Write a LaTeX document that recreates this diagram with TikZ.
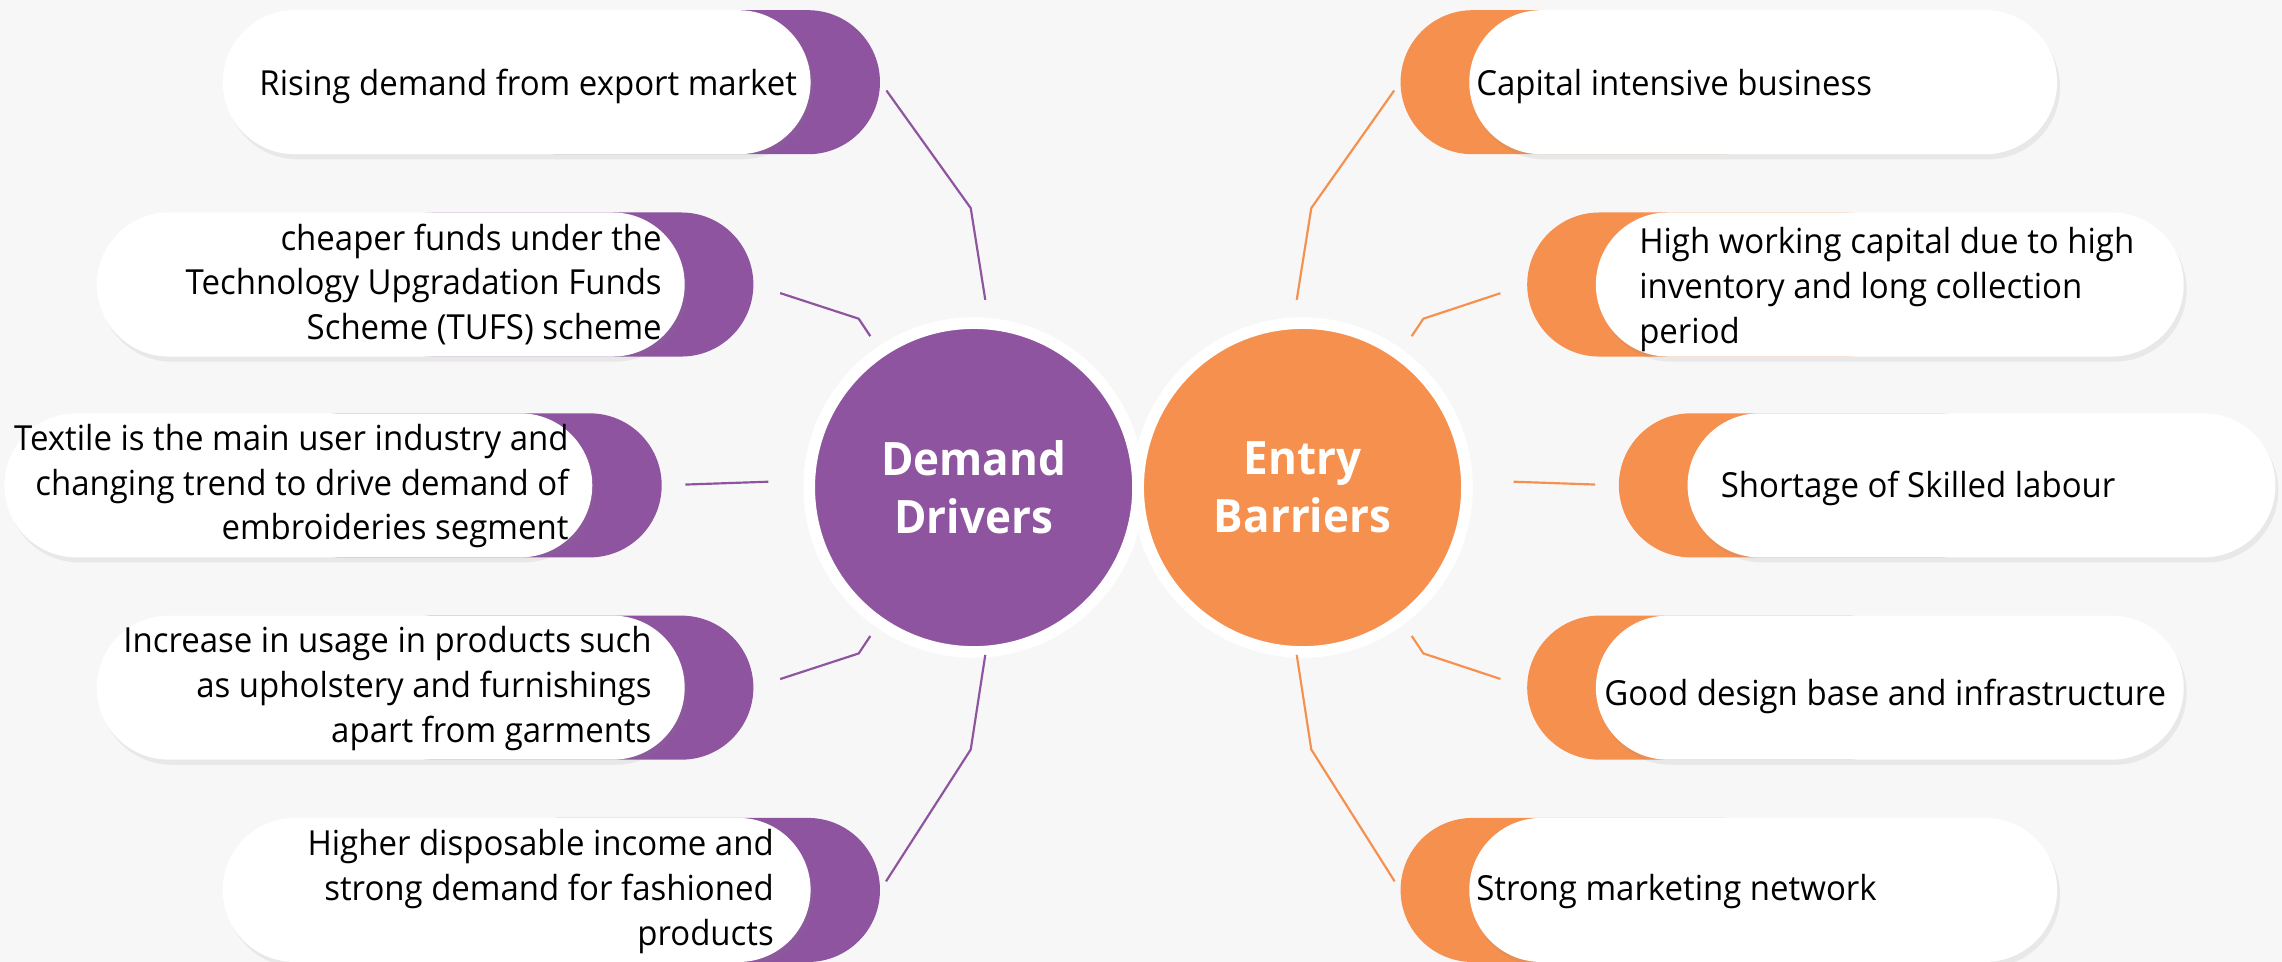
\documentclass[tikz,border=0pt]{standalone}
\usepackage{fontspec}
\setmainfont{Open Sans}[FakeStretch=0.955]
\usepackage{tikz}
\usetikzlibrary{shapes.misc,shadows}
\definecolor{ddpurple}{HTML}{8E54A0}
\definecolor{eborange}{HTML}{F5904F}
\definecolor{bggray}{HTML}{F7F7F7}
\tikzstyle{whitepill} = [rounded rectangle, fill=white, minimum width=8.08cm, minimum height=1.98cm, inner sep=0pt,
  drop shadow={opacity=0.12, shadow xshift=0.04cm, shadow yshift=-0.07cm}]
\tikzstyle{ddback} = [rounded rectangle, fill=ddpurple, minimum width=5.4cm, minimum height=1.98cm, inner sep=0pt]
\tikzstyle{ebback} = [rounded rectangle, fill=eborange, minimum width=5.4cm, minimum height=1.98cm, inner sep=0pt]
\tikzstyle{pilltext} = [inner sep=0pt, font=\fontsize{13.5}{17.5}\selectfont]
\tikzstyle{hub} = [circle, draw=white, line width=0.16cm, minimum size=4.52cm, text=white,
  align=center, font=\fontsize{18}{22.7}\selectfont\bfseries]
\tikzstyle{ddline} = [ddpurple, line width=0.85pt]
\tikzstyle{ebline} = [eborange, line width=0.85pt]

\begin{document}
\begin{tikzpicture}[x=0.02cm, y=-0.02cm]
        % Bounding box
        \useasboundingbox (0,0) rectangle (1568,661);
        \fill[bggray] (0,0) rectangle (1568,661);

        % Hubs
        \node[hub, fill=ddpurple] (dd) at (669,335) {Demand\\Drivers};
        \node[hub, fill=eborange] (eb) at (895,335) {Entry\\Barriers};

        % Demand drivers (left)
        \node[ddback, anchor=east] (d1b) at (605,56.5) {};
        \node[ddback, anchor=east] (d2b) at (518,195.5) {};
        \node[ddback, anchor=east] (d3b) at (455,333.5) {};
        \node[ddback, anchor=east] (d4b) at (518,472.5) {};
        \node[ddback, anchor=east] (d5b) at (605,611.5) {};
        \node[whitepill] (d1) at (355,56.5) {};
        \node[whitepill] (d2) at (268.5,195.5) {};
        \node[whitepill] (d3) at (205,333.5) {};
        \node[whitepill] (d4) at (268.5,472.5) {};
        \node[whitepill] (d5) at (355,611.5) {};
        \node[pilltext, anchor=east, align=right] (d1t) at (548,59.5) {Rising demand from export market};
        \node[pilltext, anchor=east, align=right] (d2t) at (455,195.5) {cheaper funds under the\\Technology Upgradation Funds\\Scheme (TUFS) scheme};
        \node[pilltext, anchor=east, align=right] (d3t) at (391,334) {Textile is the main user industry and\\changing trend to drive demand of\\embroideries segment};
        \node[pilltext, anchor=east, align=right] (d4t) at (448,473) {Increase in usage in products such\\as upholstery and furnishings\\apart from garments};
        \node[pilltext, anchor=east, align=right] (d5t) at (532,612.5) {Higher disposable income and\\strong demand for fashioned\\products};

        % Entry barriers (right)
        \node[ebback, anchor=west] (b1b) at (962,56.5) {};
        \node[ebback, anchor=west] (b2b) at (1049,195.5) {};
        \node[ebback, anchor=west] (b3b) at (1112,333.5) {};
        \node[ebback, anchor=west] (b4b) at (1049,472.5) {};
        \node[ebback, anchor=west] (b5b) at (962,611.5) {};
        \node[whitepill] (b1) at (1211.5,56.5) {};
        \node[whitepill] (b2) at (1298.5,195.5) {};
        \node[whitepill] (b3) at (1361.5,333.5) {};
        \node[whitepill] (b4) at (1298.5,472.5) {};
        \node[whitepill] (b5) at (1211.5,611.5) {};
        \node[pilltext, anchor=west, align=left] (b1t) at (1014,59.5) {Capital intensive business};
        \node[pilltext, anchor=west, align=left] (b2t) at (1126,199) {High working capital due to high\\inventory and long collection\\period};
        \node[pilltext, anchor=west, align=left] (b3t) at (1182,335.5) {Shortage of Skilled labour};
        \node[pilltext, anchor=west, align=left] (b4t) at (1102,478.5) {Good design base and infrastructure};
        \node[pilltext, anchor=west, align=left] (b5t) at (1014,612.5) {Strong marketing network};

        % Bends and loose ends
        \coordinate (d1k) at (667,143);  \coordinate (d1e) at (677,206);
        \coordinate (d2k) at (590,219);  \coordinate (d2e) at (598,231);
        \coordinate (d3e) at (528,331);
        \coordinate (d4k) at (590,449);  \coordinate (d4e) at (598,437);
        \coordinate (d5k) at (667,515);  \coordinate (d5e) at (677,450);
        \coordinate (b1k) at (901,143);  \coordinate (b1e) at (891,206);
        \coordinate (b2k) at (978,219);  \coordinate (b2e) at (970,231);
        \coordinate (b3e) at (1040,331);
        \coordinate (b4k) at (978,449);  \coordinate (b4e) at (970,437);
        \coordinate (b5k) at (901,515);  \coordinate (b5e) at (891,450);

        % Edges
        \draw[ddline, shorten <=0.14cm] (d1b.east) -- (d1k) -- (d1e);
        \draw[ddline, shorten <=0.38cm] (d2b.east) -- (d2k) -- (d2e);
        \draw[ddline, shorten <=0.32cm] (d3b.east) -- (d3e);
        \draw[ddline, shorten <=0.38cm] (d4b.east) -- (d4k) -- (d4e);
        \draw[ddline, shorten <=0.14cm] (d5b.east) -- (d5k) -- (d5e);
        \draw[ebline, shorten <=0.14cm] (b1b.west) -- (b1k) -- (b1e);
        \draw[ebline, shorten <=0.38cm] (b2b.west) -- (b2k) -- (b2e);
        \draw[ebline, shorten <=0.32cm] (b3b.west) -- (b3e);
        \draw[ebline, shorten <=0.38cm] (b4b.west) -- (b4k) -- (b4e);
        \draw[ebline, shorten <=0.14cm] (b5b.west) -- (b5k) -- (b5e);

\end{tikzpicture}
\end{document}
